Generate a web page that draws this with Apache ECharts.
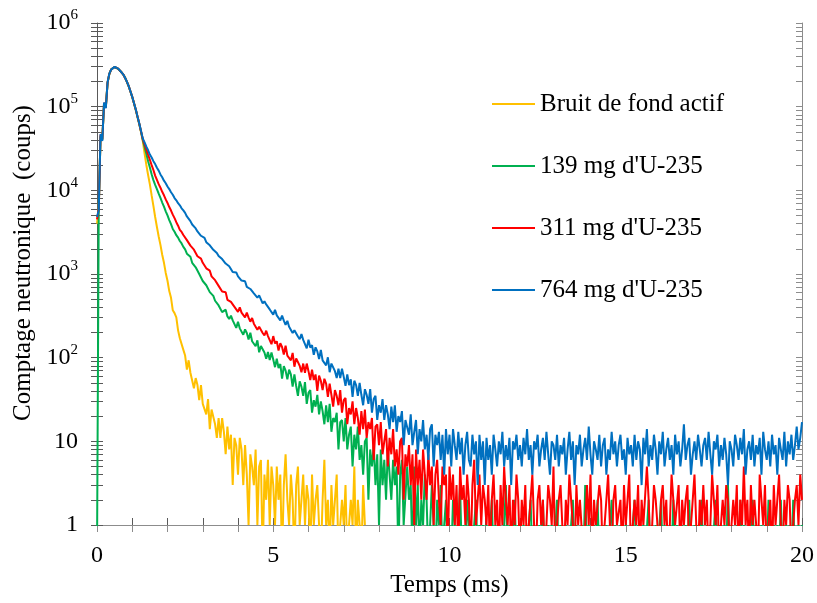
<!DOCTYPE html>
<html><head><meta charset="utf-8">
<script src="https://cdn.jsdelivr.net/npm/echarts@6/dist/echarts.min.js"></script>
<style>html,body{margin:0;padding:0;background:#fff}#c{width:817px;height:603px}</style>
</head><body><div id="c"></div>
<script>
// channel width of the time spectra (ms)
const binWidthMs = 0.05;

const seriesNames = ['Bruit de fond actif', "139 mg d'U-235", "311 mg d'U-235", "764 mg d'U-235"];
const seriesColors = ['#FFC000', '#00B050', '#FF0000', '#0070C0'];

// counts per channel (0 = empty channel)
const yellowCounts = [
4000,6100,45000,41000,108000,99000,192000,245000,279000,290000,297000,295000,283000,273000,255000,240000,221000,197000,175000,151000,130000,109000,91500,75000,61500,49500,38500,
27500,20100,15250,11800,8700,6520,4800,3650,2810,2230,1700,1360,1030,830,625,
519,368,341,303,212,171,169,124,106,72,93,66,68,43,57,47,31,47,28,29,21,32,14,24,24,16,11,19,11,19,13,7,15,8,12,3,11,9,4,11,8,3,9,4,1,7,5,3,8,1,5,6,0,4,2,6,1,5,3,
1,5,2,4,0,3,7,2,1,4,2,0,3,5,1,2,4,1,3,2,
0,4,1,2,3,1,0,2,6,1,2,0,3,1,2,4,0,1,2,1,
3,0,1,2,1,5,0,2,1,0,3,1
];

const greenCounts = [
0,6400,44000,40000,110000,98000,194000,246000,278000,291000,298000,294000,284000,272000,256000,240000,220000,198000,175000,152000,130000,110000,92000,75500,62000,50000,40000,
32900,27200,22300,18750,15550,13250,11650,10350,9120,8140,7150,6390,5620,5010,4410,3940,3450,3200,2910,2720,2480,2320,2110,
1972,1751,1716,1608,1362,1333,1203,1159,998,980,825,853,734,717,607,634,547,479,496,421,418,350,366,375,311,290,318,279,279,227,269,224,233,188,218,197,165,199,157,158,137,161,116,138,136,115,97,117,94,115,
95,77,97,75,84,56,79,70,55,72,63,45,63,46,35,52,45,35,51,28,38,41,22,31,26,36,21,30,23,16,27,17,28,13,19,17,22,8,17,18,10,19,8,12,15,5,12,8,15,6,
9,4,10,11,2,8,5,9,3,7,1,8,3,6,2,8,4,2,6,3,5,0,4,6,1,1,5,2,3,0,5,
1,3,0,2,1,4,2,0,1,3,1,0,2,1,3,0,1,2,0,1,
0,2,1,0,1,3,0,1,0,2,1,0,0,1,2,0,1,0,1,0,
1,0,0,2,0,1,0,1,0,0,1,3,0,1,0,0,2,0,1,0,
0,1,0,0,1,2,0,1,0,0,1,0,2,0,0,1,0,1,0,0,
2,0,1,0,0,1,0,0,1,2,0,1,0,0,1,0,3,0,1,0,
0,1,0,2,0,0,1,0,1,0,0,2,0,1,0,0,1,0,0,1,
1,0,0,1,2,0,1,0,0,1,0,0,2,0,1,0,1,0,0,2,
0,1,0,0,1,0,2,0,1,0,0,1,0,1,0,2,0,0,1,0,
1,0,2,0,0,1,0,1,0,0,2,0,1,0,0,1,0,3,0,1,
0,0,1,0,2,0,1,0,0,1,0,2,0,1,0,0,1,0,1,0,
2,0,0,1,0,1,0,2,0,0,1,0,1,0,2,0,0,1,0,1
];

const redCounts = [
4500,6000,46000,40500,111000,97000,195000,247000,278000,291000,298000,293000,285000,271000,256000,241000,219000,198000,176000,152000,131000,110000,92500,76000,62500,50500,40800,
35400,30800,26600,23200,20000,17500,15000,13350,11850,10750,9600,8720,7790,7070,6310,5730,5120,4650,4160,3780,3370,3180,2930,
2822,2540,2493,2182,2113,1954,1888,1628,1620,1525,1360,1358,1169,1130,1096,936,938,844,856,721,705,617,637,607,492,508,464,474,405,423,353,400,346,358,303,345,301,269,298,255,266,216,234,244,197,184,210,181,184,145,
181,148,157,122,149,134,109,139,106,108,93,114,78,98,97,80,67,85,66,85,69,54,72,54,63,40,61,53,41,56,49,34,49,36,26,41,35,27,41,22,31,33,16,25,21,30,16,25,19,12,
23,14,24,11,17,14,19,6,15,16,9,17,7,10,14,5,11,7,14,5,8,4,10,11,2,7,5,9,3,7,1,8,3,6,2,8,4,2,7,3,5,1,4,6,2,1,5,3,4,0,5,
2,4,1,3,0,5,2,3,1,4,2,0,3,6,1,2,4,1,3,2,
1,3,0,2,4,1,2,0,3,1,5,2,1,3,0,2,1,4,2,0,
2,1,3,0,1,2,4,1,0,2,3,1,2,0,1,3,2,1,5,0,
1,2,3,1,0,2,1,4,2,1,0,3,1,2,2,0,1,3,1,4,
0,2,1,1,3,2,0,1,2,4,1,0,2,3,1,1,2,0,3,1,
2,4,0,1,2,1,3,0,2,1,1,5,2,0,1,3,2,1,0,2,
3,1,2,0,1,4,2,1,1,3,0,2,1,2,3,0,1,2,4,1,
0,2,1,3,1,2,0,1,4,2,1,3,0,1,2,1,3,2,0,1,
2,1,3,0,2,1,5,1,2,0,3,1,2,1,0,4,2,1,3,0,
1,2,0,3,1,2,4,1,0,2,1,3,2,0,1,2,3,1,4,2
];

const blueCounts = [
4800,5800,47000,39000,112000,96000,196000,248000,277000,292000,299000,294000,285000,272000,256000,241000,220000,198000,176000,152000,131000,110000,93000,76000,63000,51000,41500,
37400,33200,30100,26800,24700,22300,20600,18600,17200,15500,14300,13050,12150,11100,10350,9480,8850,8090,7610,7020,6620,6090,5750,
5380,4875,4722,4284,3902,3807,3508,3228,3206,2864,2806,2697,2400,2365,2202,2184,1946,1932,1787,1643,1666,1508,1525,1333,1324,1240,1228,1058,1089,1045,937,965,834,826,820,701,724,662,691,587,588,523,555,542,445,471,433,444,377,397,
327,373,320,332,279,319,277,247,275,234,244,197,213,224,179,166,191,163,166,129,164,132,141,108,133,119,96,124,93,95,81,101,67,85,86,69,57,74,57,74,59,46,63,47,55,34,53,47,35,50,
36,27,42,36,28,42,22,32,35,18,27,22,32,18,27,21,14,26,17,27,13,20,17,23,9,18,19,12,21,9,13,18,7,14,10,18,8,12,6,14,16,5,12,9,13,6,12,4,14,7,12,
5,14,9,6,13,7,11,4,9,13,6,5,12,7,10,3,12,6,10,3,
11,6,9,4,12,8,5,10,7,13,5,9,6,11,3,10,8,12,6,9,
5,11,7,14,6,9,4,10,8,12,5,8,11,6,13,7,4,10,9,6,
12,5,9,7,11,4,8,13,6,10,3,9,7,12,5,8,11,6,15,7,
4,10,8,6,12,5,9,11,4,8,6,13,7,10,5,9,12,6,8,4,
11,7,9,5,12,6,10,8,3,11,7,14,5,9,6,12,8,4,10,7,
13,5,8,11,6,9,4,12,7,10,5,8,16,6,9,11,4,7,10,6,
12,8,5,9,11,6,13,7,4,10,8,12,5,9,6,11,7,3,10,8,
5,12,9,6,11,7,14,4,8,10,6,12,5,9,7,11,4,13,8,6,
10,5,12,7,9,4,11,8,6,13,5,10,7,12,6,9,15,8,11,17
];

const xTickLabels = [0, 5, 10, 15, 20];
const yDecades = [0, 1, 2, 3, 4, 5, 6]; // tick labels 1, 10, 10^2 ... 10^6

const FONT = 'Liberation Serif';
const allCounts = [yellowCounts, greenCounts, redCounts, blueCounts];

// empty channels are placed below the log axis floor (clipped), like the original
const toPoints = counts => counts.map((c, i) => [Math.round(i * binWidthMs * 100) / 100, c > 0 ? c : 0.4]);

// log minor tick positions (in decades) for the tick-only overlay axes
const logTickPos = [];
for (let n = 0; n < 6; n++) for (let k = 1; k <= 9; k++) logTickPos.push(n + Math.log10(k));
logTickPos.push(6);

const tickAxis = (position, inside, showLine, color) => ({
  type: 'value', position, min: 0, max: 6, silent: true,
  axisLine: { show: showLine, lineStyle: { color, width: 1 } },
  axisTick: { show: true, inside, length: 6, customValues: logTickPos, lineStyle: { color, width: 1 } },
  axisLabel: { show: false }, splitLine: { show: false }
});

const chart = echarts.init(document.getElementById('c'), null, { renderer: 'canvas' });
chart.setOption({
  animation: false,
  backgroundColor: '#fff',
  grid: { left: 97, right: 15, top: 23, bottom: 75, containLabel: false },
  legend: {
    orient: 'vertical', left: 487, top: 86, itemGap: 36,
    itemWidth: 43, itemHeight: 2, icon: 'rect',
    textStyle: { fontFamily: FONT, fontSize: 25, color: '#000', lineHeight: 26 },
    data: seriesNames
  },
  xAxis: [
    {
      type: 'value', position: 'bottom', min: 0, max: 20, interval: 5,
      name: 'Temps (ms)', nameLocation: 'middle', nameGap: 48,
      nameTextStyle: { fontFamily: FONT, fontSize: 25, color: '#000' },
      axisLine: { lineStyle: { color: '#595959', width: 1 } },
      axisTick: { show: true, inside: false, length: 6, lineStyle: { color: '#595959' } },
      axisLabel: { fontFamily: FONT, fontSize: 24, color: '#000', margin: 19,
        formatter: v => xTickLabels.includes(v) ? String(v) : '' },
      splitLine: { show: false }
    },
    {
      type: 'value', position: 'bottom', min: 0, max: 20, interval: 1, silent: true,
      axisLine: { show: false }, axisLabel: { show: false }, splitLine: { show: false },
      axisTick: { show: true, inside: true, length: 7, lineStyle: { color: '#595959' } }
    },
    {
      type: 'value', position: 'top', min: 0, max: 20, interval: 1, silent: true,
      axisLine: { show: true, lineStyle: { color: '#8c8c8c' } }, axisLabel: { show: false }, splitLine: { show: false },
      axisTick: { show: true, inside: true, length: 7, lineStyle: { color: '#8c8c8c' } }
    }
  ],
  yAxis: [
    {
      type: 'log', logBase: 10, min: 1, max: 1e6, position: 'left',
      name: 'Comptage neutronique  (coups)', nameLocation: 'middle', nameGap: 58,
      nameTextStyle: { fontFamily: FONT, fontSize: 25, color: '#000', padding: [0, 0, 0, 22] },
      axisLine: { show: true, lineStyle: { color: '#595959', width: 1 } },
      axisTick: { show: false }, splitLine: { show: false }, minorTick: { show: false },
      axisLabel: {
        margin: 19, fontFamily: FONT, fontSize: 24, color: '#000',
        formatter: v => {
          const e = Math.round(Math.log10(v));
          if (!yDecades.includes(e)) return '';
          if (e === 0) return '1';
          if (e === 1) return '10';
          return '{b|10}{s|' + e + '}';
        },
        rich: {
          b: { fontFamily: FONT, fontSize: 24, color: '#000', lineHeight: 30 },
          s: { fontFamily: FONT, fontSize: 15, color: '#000', lineHeight: 15, verticalAlign: 'top' }
        }
      }
    },
    tickAxis('left', true, false, '#595959'),
    tickAxis('left', false, false, '#595959'),
    tickAxis('right', true, true, '#8c8c8c')
  ],
  series: allCounts.map((counts, k) => ({
    name: seriesNames[k], type: 'line', xAxisIndex: 0, yAxisIndex: 0,
    data: toPoints(counts), showSymbol: false, symbol: 'none',
    color: seriesColors[k], lineStyle: { color: seriesColors[k], width: 2 },
    clip: true, silent: true
  }))
});
</script></body></html>
